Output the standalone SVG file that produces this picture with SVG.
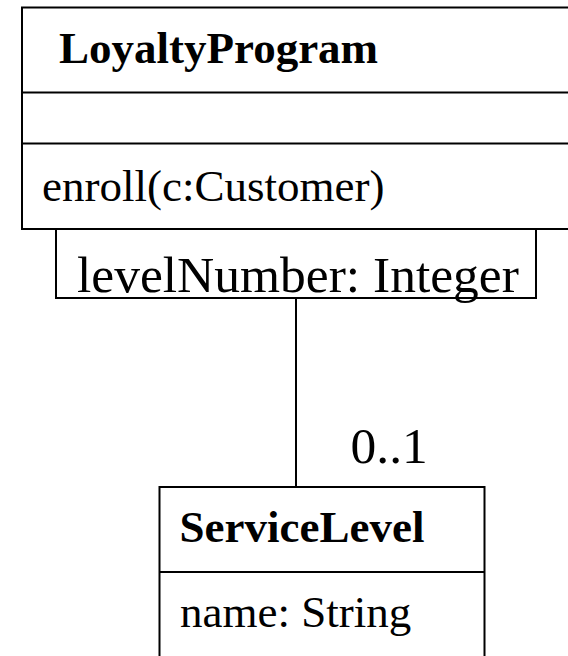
<svg xmlns="http://www.w3.org/2000/svg" width="568" height="656" viewBox="0 0 568 656">
<style>
.box{fill:#fff;stroke:#000;stroke-width:2}
.ln{stroke:#000;stroke-width:2;fill:none}
.t{font-family:"Liberation Serif","Times New Roman",serif;fill:#000}
.b{font-weight:bold;font-size:45px}
.r{font-size:45px}
.big{font-size:51.5px}
</style>
<rect width="568" height="656" fill="#fff"/>
<g id="connectors">
<line class="ln" x1="296" y1="298" x2="296" y2="487"/>
<text class="t big" x="350.5" y="463">0..1</text>
</g>
<g id="LoyaltyProgram">
<rect class="box" x="22" y="7.5" width="570" height="221.5"/>
<line class="ln" x1="22" y1="92.5" x2="570" y2="92.5"/>
<line class="ln" x1="22" y1="143.5" x2="570" y2="143.5"/>
<text class="t b" x="59" y="63">LoyaltyProgram</text>
<text class="t r" x="42" y="201">enroll(c:Customer)</text>
</g>
<g id="qualifier">
<rect class="box" x="56" y="229" width="480" height="69"/>
<text class="t big" x="77" y="292">levelNumber: Integer</text>
</g>
<g id="ServiceLevel">
<rect class="box" x="159.5" y="487" width="325" height="190"/>
<line class="ln" x1="159.5" y1="572" x2="484.5" y2="572"/>
<text class="t b" x="179.5" y="542">ServiceLevel</text>
<text class="t r" x="180" y="627">name: String</text>
</g>
</svg>
